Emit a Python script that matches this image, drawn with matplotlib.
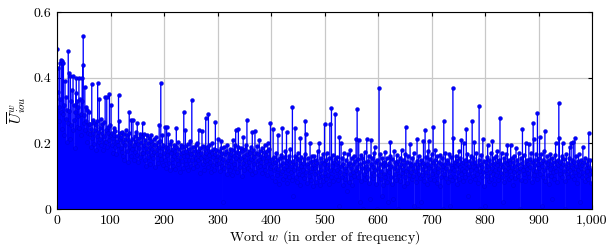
import matplotlib
matplotlib.use("Agg")
import matplotlib.pyplot as plt
import numpy as np

# mean IoU per word, words sorted by frequency (x1000)
u_iou_0_199 = [
    487, 357, 430, 312, 268, 444, 336, 295, 454, 245, 450, 288, 445, 226, 318, 390, 275, 342, 205, 300,
    262, 481, 413, 298, 214, 405, 330, 256, 362, 240, 406, 270, 318, 187, 295, 352, 400, 250, 330, 282,
    310, 400, 248, 335, 290, 225, 328, 400, 440, 527, 262, 286, 373, 240, 312, 268, 205, 300, 232, 260,
    296, 228, 258, 190, 245, 380, 215, 270, 232, 198, 262, 240, 180, 255, 221, 268, 383, 236, 205, 334,
    248, 212, 275, 196, 230, 258, 180, 265, 222, 204, 340, 240, 205, 342, 188, 232, 250, 210, 349, 256,
    226, 317, 195, 232, 215, 172, 248, 226, 190, 238, 205, 168, 222, 206, 194, 347, 269, 212, 230, 186,
    218, 175, 236, 162, 204, 228, 150, 212, 195, 240, 178, 226, 144, 210, 232, 296, 188, 205, 160, 272,
    214, 182, 270, 196, 150, 222, 174, 208, 236, 165, 263, 198, 142, 215, 185, 228, 158, 204, 172, 218,
    263, 170, 196, 228, 148, 210, 186, 132, 224, 175, 200, 158, 215, 190, 138, 206, 226, 164, 182, 198,
    156, 212, 174, 195, 128, 220, 168, 182, 204, 140, 190, 257, 165, 208, 383, 152, 186, 226, 135, 195,
]
u_iou_200_399 = [
    172, 148, 250, 190, 126, 250, 164, 186, 227, 140, 178, 198, 118, 170, 206, 152, 184, 130, 196, 160,
    178, 122, 190, 246, 150, 168, 204, 136, 182, 158, 112, 196, 170, 145, 188, 126, 174, 294, 160, 192,
    240, 138, 176, 160, 198, 118, 184, 150, 172, 206, 132, 166, 332, 148, 188, 124, 178, 162, 140, 194,
    156, 200, 130, 176, 148, 240, 168, 110, 186, 154, 172, 238, 136, 192, 160, 118, 182, 146, 276, 170,
    150, 188, 128, 288, 164, 196, 142, 176, 112, 170, 200, 134, 158, 184, 120, 166, 266, 148, 180, 138,
    162, 213, 140, 178, 116, 156, 186, 206, 130, 170, 20, 152, 190, 124, 168, 142, 176, 108, 194, 150,
    132, 172, 158, 118, 184, 146, 166, 104, 180, 210, 138, 160, 196, 126, 240, 154, 174, 112, 188, 244,
    148, 170, 128, 186, 156, 102, 176, 140, 220, 162, 118, 182, 150, 196, 134, 271, 166, 124, 178, 144,
    170, 120, 188, 152, 108, 236, 162, 180, 136, 158, 238, 114, 172, 146, 192, 128, 166, 150, 210, 132,
    176, 142, 160, 110, 186, 154, 130, 174, 196, 120, 164, 146, 178, 104, 200, 158, 136, 184, 126, 261,
]
u_iou_400_599 = [
    130, 152, 96, 140, 243, 118, 158, 84, 144, 126, 172, 104, 150, 225, 122, 76, 156, 134, 110, 164,
    116, 246, 140, 90, 158, 126, 102, 176, 132, 236, 80, 148, 120, 160, 96, 142, 182, 112, 130, 88,
    312, 40, 146, 118, 162, 246, 98, 136, 154, 82, 170, 124, 108, 148, 74, 215, 130, 158, 104, 140,
    118, 152, 94, 166, 269, 228, 112, 136, 78, 156, 128, 102, 144, 200, 116, 88, 162, 124, 146, 70,
    134, 160, 106, 126, 150, 82, 140, 178, 114, 96, 200, 130, 74, 154, 120, 144, 100, 168, 86, 136,
    258, 110, 150, 92, 170, 124, 104, 138, 76, 156, 258, 118, 96, 309, 132, 164, 84, 142, 116, 152,
    288, 102, 136, 120, 158, 88, 144, 10, 220, 112, 130, 200, 98, 154, 74, 138, 172, 108, 124, 90,
    150, 116, 56, 166, 134, 82, 140, 106, 180, 94, 126, 156, 72, 136, 114, 162, 100, 146, 120, 213,
    128, 304, 96, 152, 210, 112, 20, 138, 164, 86, 124, 156, 0, 106, 142, 174, 90, 130, 116, 213,
    98, 146, 122, 162, 80, 30, 136, 210, 110, 154, 94, 128, 170, 104, 190, 118, 142, 76, 0, 150,
]
u_iou_600_799 = [
    126, 104, 370, 138, 166, 90, 116, 40, 156, 130, 74, 144, 108, 174, 96, 134, 154, 82, 120, 20,
    140, 114, 160, 205, 98, 132, 152, 76, 30, 124, 176, 106, 142, 88, 136, 164, 118, 0, 146, 102,
    128, 156, 84, 138, 180, 110, 122, 150, 70, 134, 168, 96, 249, 116, 144, 80, 160, 126, 104, 140,
    198, 112, 134, 90, 154, 124, 100, 172, 10, 138, 116, 82, 146, 212, 128, 0, 162, 106, 136, 94,
    20, 150, 122, 104, 140, 208, 86, 130, 240, 114, 158, 76, 138, 176, 100, 206, 124, 152, 92, 134,
    166, 108, 142, 250, 120, 88, 148, 180, 104, 134, 78, 160, 126, 114, 144, 70, 164, 98, 136, 122,
    154, 0, 130, 268, 106, 138, 172, 94, 124, 150, 82, 140, 116, 166, 102, 10, 134, 158, 88, 126,
    370, 215, 118, 144, 98, 162, 132, 76, 150, 114, 138, 176, 92, 128, 156, 106, 210, 122, 144, 84,
    200, 116, 150, 96, 136, 243, 124, 166, 40, 108, 146, 130, 86, 162, 118, 140, 269, 102, 154, 128,
    204, 90, 144, 122, 170, 106, 134, 78, 150, 314, 116, 0, 138, 164, 96, 128, 213, 112, 146, 70,
]
u_iou_800_999 = [
    10, 142, 118, 158, 100, 196, 130, 86, 148, 114, 136, 172, 92, 124, 207, 108, 154, 76, 140, 120,
    160, 104, 134, 178, 88, 146, 122, 150, 278, 110, 138, 170, 96, 20, 128, 156, 82, 142, 118, 166,
    106, 136, 195, 124, 150, 90, 140, 116, 195, 98, 154, 128, 74, 144, 112, 160, 132, 94, 185, 120,
    148, 102, 136, 170, 114, 126, 0, 154, 88, 140, 243, 118, 164, 106, 132, 84, 200, 146, 122, 150,
    110, 138, 198, 96, 152, 128, 170, 82, 144, 120, 261, 214, 104, 148, 134, 166, 116, 90, 291, 136,
    154, 124, 220, 108, 140, 166, 10, 132, 98, 150, 178, 118, 238, 86, 144, 128, 162, 104, 138, 76,
    148, 122, 168, 100, 136, 30, 154, 112, 142, 90, 128, 164, 200, 116, 146, 82, 134, 150, 322, 215,
    106, 144, 128, 162, 96, 200, 138, 116, 152, 84, 0, 132, 168, 108, 140, 124, 98, 154, 190, 118,
    136, 200, 102, 148, 124, 205, 90, 142, 215, 114, 160, 130, 78, 146, 120, 168, 104, 138, 20, 126,
    150, 96, 134, 190, 112, 142, 86, 156, 124, 102, 138, 116, 150, 90, 232, 128, 106, 150, 120, 80,
]

x_ticks = [0, 100, 200, 300, 400, 500, 600, 700, 800, 900, 1000]
x_tick_labels = ["0", "100", "200", "300", "400", "500", "600", "700", "800", "900", "1,000"]
y_ticks = [0, 0.2, 0.4, 0.6]
y_tick_labels = ["0", "0.2", "0.4", "0.6"]

u_iou = np.array(u_iou_0_199 + u_iou_200_399 + u_iou_400_599 + u_iou_600_799 + u_iou_800_999) / 1000.0
words = np.arange(len(u_iou))

plt.rcParams["font.family"] = "serif"
plt.rcParams["font.serif"] = ["cmr10", "DejaVu Serif"]
plt.rcParams["mathtext.fontset"] = "cm"
plt.rcParams["axes.formatter.use_mathtext"] = True

fig = plt.figure(figsize=(6.07, 2.47), dpi=100)
ax = fig.add_axes([57 / 607, 1 - 209 / 247, 535 / 607, 197 / 247])

markers, stems, base = ax.stem(words, u_iou, linefmt="b-", markerfmt="bo", basefmt=" ")
stems.set_color("#0000ff")
stems.set_linewidth(0.95)
stems.set_snap(False)
markers.set_color("#0000ff")
markers.set_markersize(2.8)
markers.set_markeredgewidth(0.3)
markers.set_markeredgecolor("#0000cc")

ax.set_xlim(0, 1000)
ax.set_ylim(0, 0.6)
ax.set_xticks(x_ticks)
ax.set_xticklabels(x_tick_labels)
ax.set_yticks(y_ticks)
ax.set_yticklabels(y_tick_labels)
ax.grid(True, color="#c8c8c8", lw=0.9)
ax.set_axisbelow(True)
ax.tick_params(direction="in", length=3, top=True, right=True, labelsize=10, colors="black", pad=4)
for s in ax.spines.values():
    s.set_linewidth(0.8)

ax.set_xlabel("Word $w$ (in order of frequency)", fontsize=10, labelpad=1)
ax.set_ylabel(r"$\overline{U}^{w}_{iou}$", fontsize=11, labelpad=4)

fig.savefig("out.png", dpi=100)
